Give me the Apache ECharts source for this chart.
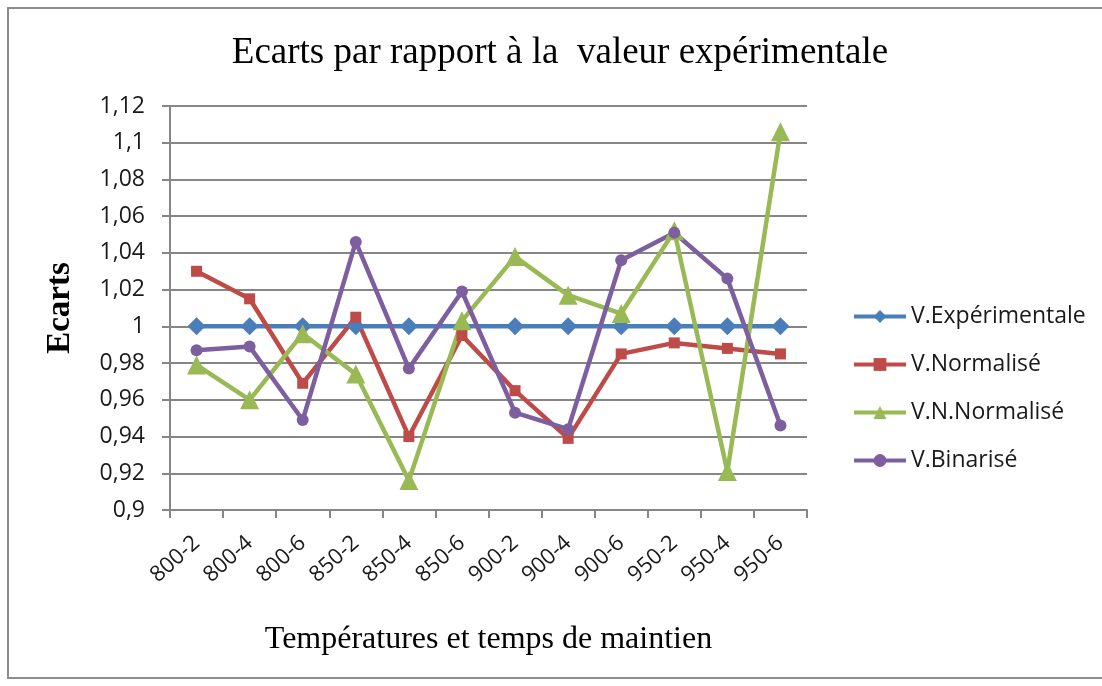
<!DOCTYPE html>
<html>
<head>
<meta charset="utf-8">
<script src="https://cdn.jsdelivr.net/npm/echarts@6/dist/echarts.min.js"></script>
<style>
html, body { margin: 0; padding: 0; background: #fff; }
#main { width: 1102px; height: 686px; }
</style>
</head>
<body>
<div id="main"></div>
<script>
var categories = ['800-2', '800-4', '800-6', '850-2', '850-4', '850-6', '900-2', '900-4', '900-6', '950-2', '950-4', '950-6'];
var vExperimentale = [1, 1, 1, 1, 1, 1, 1, 1, 1, 1, 1, 1];
var vNormalise = [1.030, 1.015, 0.969, 1.005, 0.940, 0.995, 0.965, 0.939, 0.985, 0.991, 0.988, 0.985];
var vNNormalise = [0.979, 0.960, 0.996, 0.974, 0.916, 1.003, 1.038, 1.017, 1.007, 1.052, 0.921, 1.106];
var vBinarise = [0.987, 0.989, 0.949, 1.046, 0.977, 1.019, 0.953, 0.944, 1.036, 1.051, 1.026, 0.946];

var myChart = echarts.init(document.getElementById('main'));

var serif = '"Liberation Serif", "DejaVu Serif", serif';
var sans = '"Open Sans", "Liberation Sans", sans-serif';
var gray = '#868686';

var option = {
    backgroundColor: '#ffffff',
    animation: false,
    title: {
        text: 'Ecarts par rapport à la  valeur expérimentale',
        left: 555,
        textAlign: 'center',
        top: 30,
        textStyle: {
            fontFamily: serif,
            fontWeight: 'normal',
            fontSize: 37,
            color: '#000'
        }
    },
    graphic: [{
        type: 'rect',
        shape: { x: 8, y: 8, width: 1110, height: 670 },
        style: { fill: 'none', stroke: '#8c8c8c', lineWidth: 2 },
        silent: true
    }],
    legend: {
        orient: 'vertical',
        left: 847,
        top: 300,
        itemWidth: 52,
        itemHeight: 16,
        itemGap: 25,
        lineStyle: { width: 4 },
        textStyle: {
            fontFamily: sans,
            fontSize: 23,
            color: '#1a1a1a'
        },
        data: ['V.Expérimentale', 'V.Normalisé', 'V.N.Normalisé', 'V.Binarisé']
    },
    grid: {
        left: 170,
        right: 295,
        top: 106,
        bottom: 176
    },
    xAxis: {
        type: 'category',
        data: categories,
        boundaryGap: true,
        name: 'Températures et temps de maintien',
        nameLocation: 'middle',
        nameGap: 114,
        nameTextStyle: {
            fontFamily: serif,
            fontSize: 32,
            color: '#000'
        },
        axisLine: { lineStyle: { color: gray, width: 2 } },
        axisTick: { show: true, length: 8, lineStyle: { color: gray, width: 2 } },
        axisLabel: {
            rotate: 42,
            fontFamily: sans,
            fontSize: 22,
            color: '#1a1a1a',
            margin: 30
        }
    },
    yAxis: {
        type: 'value',
        min: 0.9,
        max: 1.12,
        interval: 0.02,
        name: 'Ecarts',
        nameLocation: 'middle',
        nameGap: 93,
        nameTextStyle: {
            fontFamily: serif,
            fontSize: 33,
            fontWeight: 'bold',
            color: '#000'
        },
        axisLine: { show: true, lineStyle: { color: gray, width: 2 } },
        axisTick: { show: true, length: 8, lineStyle: { color: gray, width: 2 } },
        splitLine: { lineStyle: { color: gray, width: 2 } },
        axisLabel: {
            fontFamily: sans,
            fontSize: 23,
            color: '#1a1a1a',
            margin: 25,
            formatter: function (v) {
                return String(Math.round(v * 100) / 100).replace('.', ',');
            }
        }
    },
    series: [
        {
            name: 'V.Expérimentale',
            type: 'line',
            data: vExperimentale,
            symbol: 'diamond',
            symbolSize: 18,
            color: '#4a7ebb',
            lineStyle: { width: 4.5 }
        },
        {
            name: 'V.Normalisé',
            type: 'line',
            data: vNormalise,
            symbol: 'rect',
            symbolSize: 11,
            color: '#be4b48',
            lineStyle: { width: 4.5 }
        },
        {
            name: 'V.N.Normalisé',
            type: 'line',
            data: vNNormalise,
            symbol: 'triangle',
            symbolSize: 19,
            color: '#98b954',
            lineStyle: { width: 4.5 }
        },
        {
            name: 'V.Binarisé',
            type: 'line',
            data: vBinarise,
            symbol: 'circle',
            symbolSize: 12,
            color: '#7d5fa0',
            lineStyle: { width: 4.5 }
        }
    ]
};

myChart.setOption(option);
</script>
</body>
</html>
